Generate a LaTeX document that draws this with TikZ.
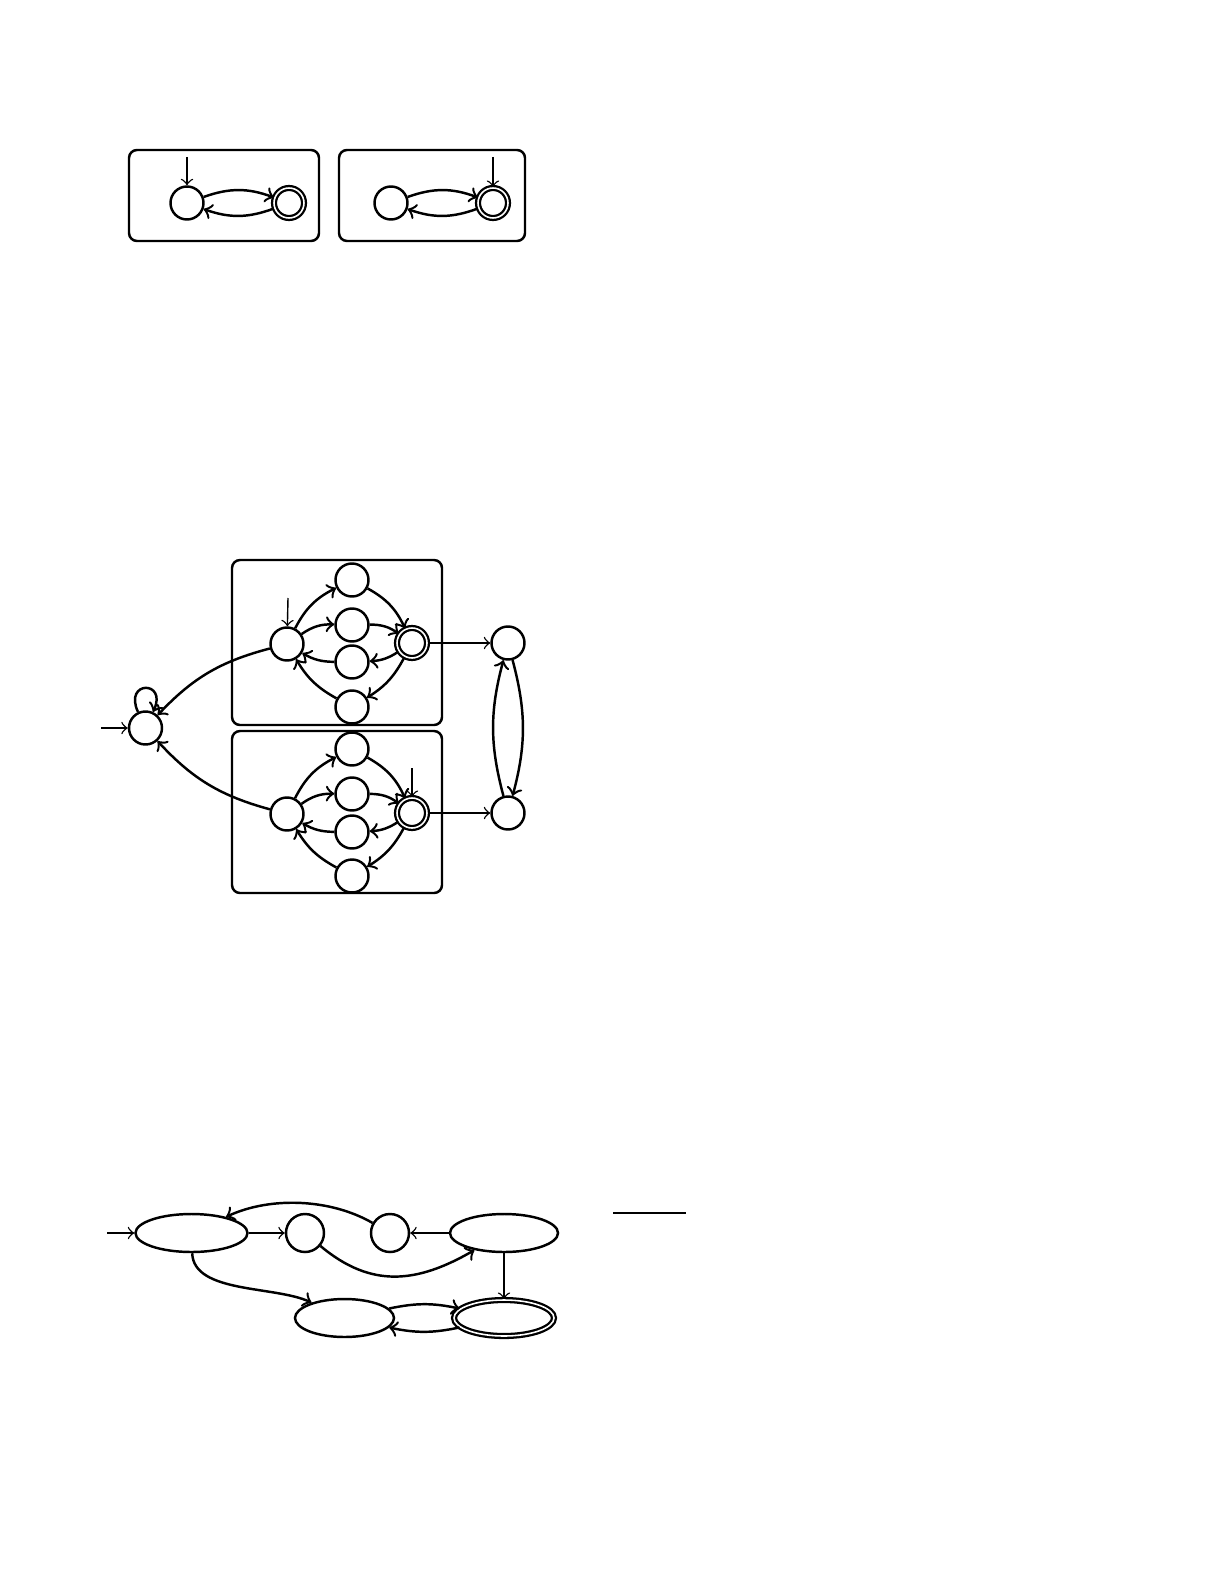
\documentclass[tikz,border=0pt]{standalone}
\usetikzlibrary{shapes.geometric}

\begin{document}
\begin{tikzpicture}[
		st/.style={circle, draw, line width=.7pt, minimum size=.33cm, inner sep=0pt},
		acc/.style={circle, draw, line width=.65pt, double, double distance=.45pt, minimum size=.30cm, inner sep=0pt},
		oval/.style={ellipse, draw, line width=.7pt, minimum height=.38cm, inner sep=0pt},
		frame/.style={draw, line width=.7pt, rounded corners=.08cm},
		arc/.style={->, line width=.7pt},
		ini/.style={->, thin}]
	\useasboundingbox(0, 0) rectangle (12.25, -15.85);

	%%%%%%%%%%%%%%%%%%%%%%%%%%%%
	\draw[frame](1.29, -1.50) rectangle (3.19, -2.41);
		\node[st](p0) at(1.87, -2.03){};
		\node[acc](p1) at(2.89, -2.03){};
		\coordinate(p0in) at(1.87, -1.57);
		\draw[ini](p0in) to (p0);
		\draw[arc](p0) to[bend left=20] (p1);
		\draw[arc](p1) to[bend left=20] (p0);

	\draw[frame](3.39, -1.50) rectangle (5.25, -2.41);
		\node[st](q0) at(3.91, -2.03){};
		\node[acc](q1) at(4.93, -2.03){};
		\coordinate(q1in) at(4.93, -1.57);
		\draw[ini](q1in) to (q1);
		\draw[arc](q0) to[bend left=20] (q1);
		\draw[arc](q1) to[bend left=20] (q0);

	%%%%%%%%%%%%%%%%%%%%%%%%%%%%
	\node[st](s) at(1.455, -7.28){};
		\coordinate(sin) at(1.01, -7.28);
		\draw[ini](sin) to (s);
		\draw[arc](s) to[out=115, in=65, looseness=6] (s);

	\draw[frame](2.32, -5.60) rectangle (4.42, -7.25);
		\node[st](ul) at(2.87, -6.44){};
		\node[st](u1) at(3.52, -5.80){};
		\node[st](u2) at(3.52, -6.25){};
		\node[st](u3) at(3.52, -6.62){};
		\node[st](u4) at(3.52, -7.07){};
		\node[acc](ua) at(4.12, -6.43){};
		\coordinate(ulin) at(2.88, -5.98);
		\draw[ini](ulin) to (ul);
		\draw[arc](ul) to[bend left=18] (u1);
		\draw[arc](ul) to[bend left=18] (u2);
		\draw[arc](u1) to[bend left=18] (ua);
		\draw[arc](u2) to[bend left=18] (ua);
		\draw[arc](ua) to[bend left=15] (u3);
		\draw[arc](ua) to[bend left=15] (u4);
		\draw[arc](u3) to[bend left=15] (ul);
		\draw[arc](u4) to[bend left=15] (ul);

	\draw[frame](2.32, -7.31) rectangle (4.42, -8.93);
		\node[st](vl) at(2.87, -8.14){};
		\node[st](v1) at(3.52, -7.49){};
		\node[st](v2) at(3.52, -7.94){};
		\node[st](v3) at(3.52, -8.32){};
		\node[st](v4) at(3.52, -8.76){};
		\node[acc](va) at(4.12, -8.13){};
		\coordinate(vain) at(4.12, -7.68);
		\draw[ini](vain) to (va);
		\draw[arc](vl) to[bend left=18] (v1);
		\draw[arc](vl) to[bend left=18] (v2);
		\draw[arc](v1) to[bend left=18] (va);
		\draw[arc](v2) to[bend left=18] (va);
		\draw[arc](va) to[bend left=15] (v3);
		\draw[arc](va) to[bend left=15] (v4);
		\draw[arc](v3) to[bend left=15] (vl);
		\draw[arc](v4) to[bend left=15] (vl);

	\node[st](r1) at(5.08, -6.43){};
	\node[st](r2) at(5.08, -8.13){};
		\draw[ini](ua) to (r1);
		\draw[ini](va) to (r2);
		\draw[arc](r1) to[bend left=15] (r2);
		\draw[arc](r2) to[bend left=15] (r1);

		\draw[arc](ul) to[bend right=16] (s);
		\draw[arc](vl) to[bend left=16] (s);

	%%%%%%%%%%%%%%%%%%%%%%%%%%%%
	\node[oval, minimum width=1.12cm](a) at(1.915, -12.33){};
	\node[oval, minimum width=.38cm](b) at(3.05, -12.33){};
	\node[oval, minimum width=.38cm](c) at(3.90, -12.33){};
	\node[oval, minimum width=1.08cm](d) at(5.04, -12.33){};
	\node[oval, minimum width=.99cm](e) at(3.445, -13.18){};
	\node[oval, line width=.65pt, double, double distance=.45pt, minimum width=1.00cm, minimum height=.36cm](f) at(5.04, -13.18){};
		\coordinate(ain) at(1.07, -12.33);
		\draw[ini](ain) to (a);
		\draw[ini](a) to (b);
		\draw[ini](d) to (c);
		\draw[ini](d) to (f);
		\draw[arc](c) to[out=150, in=25, looseness=.85] (a);
		\draw[arc](b) to[out=-40, in=-150, looseness=1.1] (d);
		\draw[arc](a) to[out=-88, in=155, looseness=.8] (e);
		\draw[arc](e) to[bend left=12] (f);
		\draw[arc](f) to[bend left=12] (e);

	\draw[thick](6.13, -12.13) to (6.86, -12.13);
\end{tikzpicture}
\end{document}
